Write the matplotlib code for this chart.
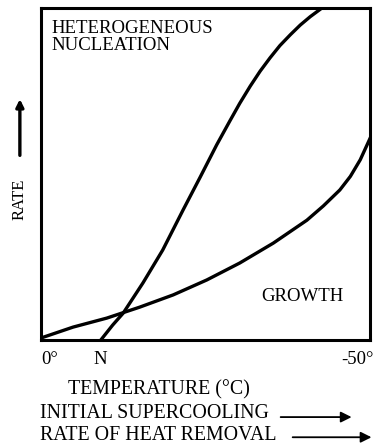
import matplotlib
matplotlib.use("Agg")
import matplotlib.pyplot as plt
from matplotlib.patches import FancyArrowPatch

plt.rcParams['font.family'] = ['Liberation Serif', 'DejaVu Serif']

# supercooling below 0 degC (x) against relative rate (y)
nucl_x = [9.1, 10.9, 12.5, 15.5, 18.5, 21.6, 24.2, 26.7, 28.7, 30.2,
          31.8, 33.3, 34.8, 36.3, 37.9, 39.4, 40.9, 42.4, 43.0]
nucl_y = [0.0, 4.5, 8.1, 17.2, 27.1, 39.2, 49.1, 58.8, 66.0, 71.3,
          76.5, 81.0, 85.0, 88.7, 92.0, 94.9, 97.4, 99.6, 100.5]
growth_x = [0.0, 4.9, 10.0, 15.0, 20.1, 25.2, 30.2, 35.3, 40.4, 42.9,
            45.4, 47.0, 48.5, 50.0]
growth_y = [0.6, 3.9, 6.6, 9.9, 13.6, 18.1, 23.2, 29.2, 36.1, 40.4,
            45.2, 49.3, 54.3, 60.8]
tick_pos = [0, 9, 50]
tick_labels = ['0°', 'N', '-50°']

fig = plt.figure(figsize=(3.75, 4.48), dpi=100)
ax = fig.add_axes([0.109, 0.241, 0.878, 0.741])

ax.plot(nucl_x, nucl_y, color='black', lw=2.4, solid_joinstyle='round')
ax.plot(growth_x, growth_y, color='black', lw=2.4, solid_joinstyle='round')

ax.set_xlim(0, 50)
ax.set_ylim(0, 100)
for s in ax.spines.values():
    s.set_linewidth(2.2)
ax.set_xticks([])
ax.set_yticks([])

fs = 13.5
ax.text(1.6, 96.5, 'HETEROGENEOUS\nNUCLEATION', fontsize=fs, va='top',
        ha='left', linespacing=1.05)
ax.text(33.4, 13, 'GROWTH', fontsize=fs, ha='left', va='center')

# labels under the frame; the last one is pulled in to stay on the page
for p, lab in zip(tick_pos, tick_labels):
    ha = {0: 'left', 50: 'right'}.get(p, 'center')
    xpos = 50.6 if p == 50 else p
    ax.text(xpos, -6.0, lab, fontsize=fs, ha=ha, va='center', clip_on=False)

fig.text(0.181, 0.129, 'TEMPERATURE (°C)', fontsize=fs + 0.8, ha='left',
         va='center')
fig.text(0.107, 0.078, 'INITIAL SUPERCOOLING', fontsize=fs + 0.8, ha='left',
         va='center')
fig.text(0.107, 0.029, 'RATE OF HEAT REMOVAL', fontsize=fs + 0.8, ha='left',
         va='center')
fig.text(0.053, 0.554, 'RATE', fontsize=fs - 1.5, rotation=90, ha='center',
         va='center')

arrow = dict(arrowstyle='-|>', color='black', lw=1.3, mutation_scale=16,
             transform=fig.transFigure)
fig.add_artist(FancyArrowPatch((0.741, 0.069), (0.945, 0.069), **arrow))
fig.add_artist(FancyArrowPatch((0.773, 0.024), (0.998, 0.024), **arrow))
fig.add_artist(FancyArrowPatch((0.053, 0.647), (0.053, 0.785),
                               arrowstyle='-|>', color='black', lw=2.4,
                               mutation_scale=11, transform=fig.transFigure))

fig.savefig('out.png', dpi=100)
